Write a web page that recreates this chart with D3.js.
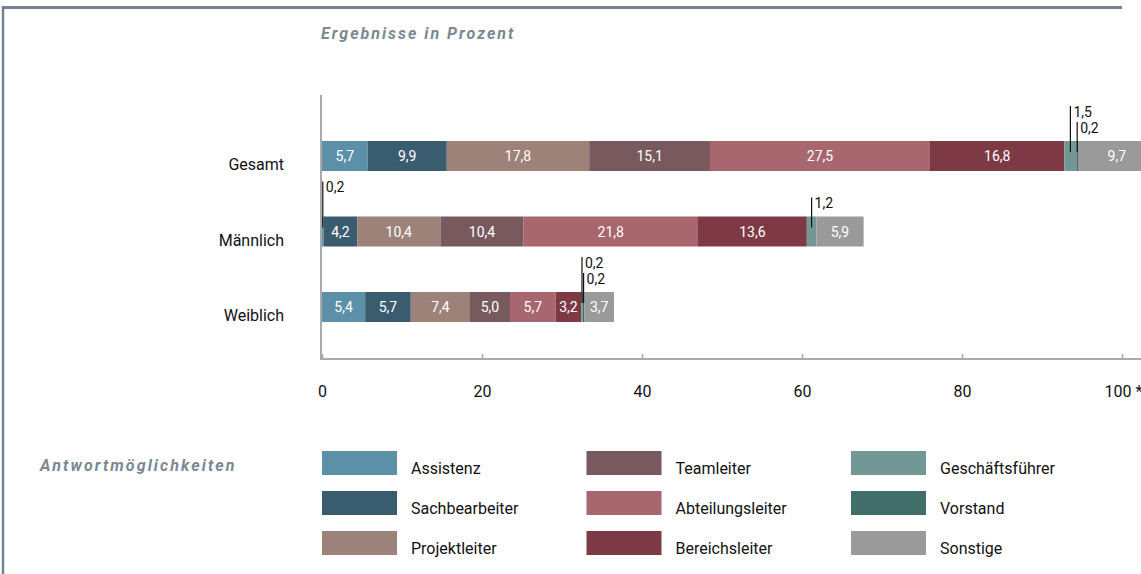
<!DOCTYPE html>
<html>
<head>
<meta charset="utf-8">
<script src="https://cdn.jsdelivr.net/npm/d3@7"></script>
<style>
  body { margin: 0; background: #fff; }
  svg { display: block; font-family: Roboto, "Liberation Sans", sans-serif; }
</style>
</head>
<body>
<div id="chart"></div>
<script>
// Ergebnisse in Prozent - gestapelte Balken
const groups = ["Gesamt", "Männlich", "Weiblich"];
const categories = ["Assistenz", "Sachbearbeiter", "Projektleiter", "Teamleiter",
    "Abteilungsleiter", "Bereichsleiter", "Geschäftsführer", "Vorstand", "Sonstige"];
const colors = ["#5b90a8", "#3a5c6f", "#9c8278", "#785a5e",
    "#a8666e", "#7e3a44", "#729896", "#426e6a", "#9a9a9a"];

const gesamt   = [5.7, 9.9, 17.8, 15.1, 27.5, 16.8, 1.5, 0.2, 9.7];
const maennlich = [0.2, 4.2, 10.4, 10.4, 21.8, 13.6, 1.2, 0, 5.9];
const weiblich = [5.4, 5.7, 7.4, 5.0, 5.7, 3.2, 0.2, 0.2, 3.7];
const seriesValues = [gesamt, maennlich, weiblich];

const xTicks = [0, 20, 40, 60, 80, 100];

const width = 1141, height = 574;
const margin = { left: 322, top: 95, axisY: 359 };

const svg = d3.select("#chart").append("svg")
    .attr("width", width)
    .attr("height", height);

// frame lines
svg.append("line").attr("x1", 3).attr("x2", 3).attr("y1", 6).attr("y2", height)
    .attr("stroke", "#76838e").attr("stroke-width", 2.5);
svg.append("line").attr("x1", 2).attr("x2", 1122).attr("y1", 7.5).attr("y2", 7.5)
    .attr("stroke", "#76838e").attr("stroke-width", 3);

// title
svg.append("text")
    .attr("x", 321).attr("y", 39)
    .attr("fill", "#7c8892")
    .style("font-size", "16px").style("font-weight", "bold").style("font-style", "italic")
    .style("letter-spacing", "2px")
    .text("Ergebnisse in Prozent");

const x = d3.scaleLinear().domain([0, 100]).range([margin.left, margin.left + 800]);
const y = d3.scaleBand().domain(groups).range([141, 322]).paddingInner(0.6026).paddingOuter(0);

// x axis
const xAxis = svg.append("g")
    .attr("transform", `translate(0,${margin.axisY})`)
    .call(d3.axisBottom(x).tickValues(xTicks).tickSize(0).tickFormat(d => d === 100 ? "100 *" : d));
xAxis.select(".domain").remove();
xAxis.attr("font-size", null).attr("font-family", null);
xAxis.selectAll("text")
    .attr("y", 38)
    .attr("dy", 0)
    .attr("fill", "#111")
    .style("font-size", "16px")
    .attr("dx", d => d === 100 ? 1 : 0);
xAxis.selectAll(".tick").append("line")
    .attr("y1", 0).attr("y2", -5)
    .attr("stroke", "#aaa").attr("stroke-width", 1.5);
svg.append("line")
    .attr("x1", margin.left - 1).attr("x2", width)
    .attr("y1", margin.axisY).attr("y2", margin.axisY)
    .attr("stroke", "#aaa").attr("stroke-width", 2);
svg.append("line")
    .attr("x1", margin.left - 1).attr("x2", margin.left - 1)
    .attr("y1", margin.top).attr("y2", margin.axisY + 1)
    .attr("stroke", "#aaa").attr("stroke-width", 2);

// group labels
svg.append("g").selectAll("text")
    .data(groups)
    .join("text")
    .attr("x", 284)
    .attr("y", d => y(d) + y.bandwidth() / 2 + 14)
    .attr("text-anchor", "end")
    .attr("fill", "#111")
    .style("font-size", "16px")
    .text(d => d);

// stacked bars
const fmt = v => v.toFixed(1).replace(".", ",");
const rows = groups.map((g, gi) => {
    let cum = 0;
    return seriesValues[gi].map((v, ci) => {
        const seg = { group: g, cat: ci, value: v, x0: cum, x1: cum + v };
        cum += v;
        return seg;
    });
});

const barG = svg.append("g");
rows.forEach(row => {
    const g = barG.append("g");
    g.selectAll("rect")
        .data(row.filter(d => d.value > 0))
        .join("rect")
        .attr("x", d => x(d.x0))
        .attr("y", d => y(d.group))
        .attr("width", d => x(d.x1) - x(d.x0))
        .attr("height", y.bandwidth())
        .attr("fill", d => colors[d.cat]);

    // labels inside wide enough segments
    g.selectAll("text")
        .data(row.filter(d => d.value >= 2))
        .join("text")
        .attr("x", d => (x(d.x0) + x(d.x1)) / 2)
        .attr("y", d => y(d.group) + y.bandwidth() / 2 + 5)
        .attr("text-anchor", "middle")
        .attr("fill", "#fff")
        .style("font-size", "14px")
        .text(d => fmt(d.value));

    // callouts for small segments
    const small = row.filter(d => d.value > 0 && d.value < 2);
    small.forEach((d, i) => {
        const level = small.length - 1 - i; // first one is highest
        const top = y(d.group) - 19 - level * 16;
        const lx = x((d.x0 + d.x1) / 2);
        g.append("line")
            .attr("x1", lx).attr("x2", lx)
            .attr("y1", top).attr("y2", y(d.group) + 11)
            .attr("stroke", "#111").attr("stroke-width", 1.2);
        g.append("text")
            .attr("x", lx + 3)
            .attr("y", top + 11)
            .attr("fill", "#111")
            .style("font-size", "14px")
            .text(fmt(d.value));
    });
});

// legend
svg.append("text")
    .attr("x", 40).attr("y", 471)
    .attr("fill", "#7c8892")
    .style("font-size", "16px").style("font-weight", "bold").style("font-style", "italic")
    .style("letter-spacing", "2.1px")
    .text("Antwortmöglichkeiten");

const legend = svg.append("g").selectAll("g")
    .data(categories)
    .join("g")
    .attr("transform", (d, i) => `translate(${322 + Math.floor(i / 3) * 264.5},${451 + (i % 3) * 40})`);
legend.append("rect")
    .attr("width", 75).attr("height", 24)
    .attr("fill", (d, i) => colors[i]);
legend.append("text")
    .attr("x", 89).attr("y", 23)
    .attr("fill", "#111")
    .style("font-size", "16px")
    .text(d => d);
</script>
</body>
</html>
